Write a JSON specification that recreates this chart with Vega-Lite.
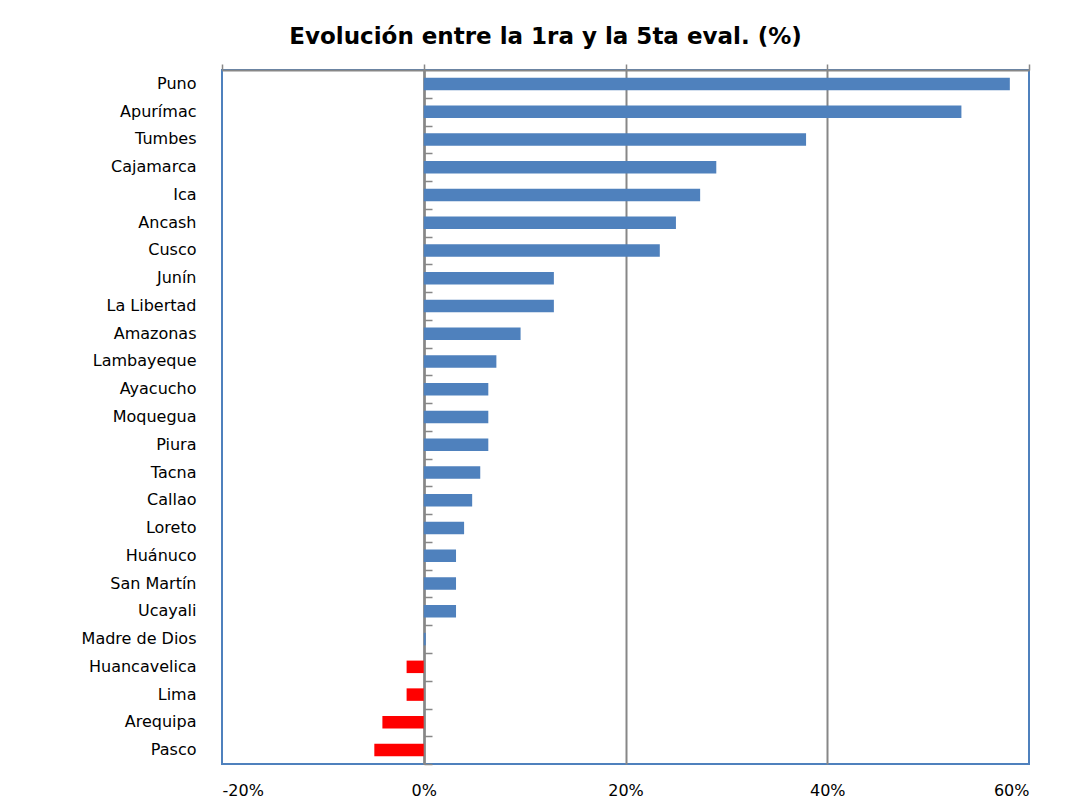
{
  "$schema": "https://vega.github.io/schema/vega-lite/v6.json",
  "width": 807,
  "height": 694,
  "autosize": {"type": "none"},
  "padding": {"left": 222, "top": 70, "right": 40, "bottom": 43},
  "background": "white",
  "config": {"view": {"stroke": "#4F81BD", "strokeWidth": 2}, "font": "DejaVu Sans"},
  "title": {"text": "Evolución entre la 1ra y la 5ta eval. (%)", "fontSize": 23, "fontWeight": "bold", "font": "DejaVu Sans", "dx": -80, "offset": 14, "color": "black"},
  "data": {"values": [
    {"region": "Puno", "valor": 58.1, "signo": "pos"},
    {"region": "Apurímac", "valor": 53.3, "signo": "pos"},
    {"region": "Tumbes", "valor": 37.9, "signo": "pos"},
    {"region": "Cajamarca", "valor": 29.0, "signo": "pos"},
    {"region": "Ica", "valor": 27.4, "signo": "pos"},
    {"region": "Ancash", "valor": 25.0, "signo": "pos"},
    {"region": "Cusco", "valor": 23.4, "signo": "pos"},
    {"region": "Junín", "valor": 12.9, "signo": "pos"},
    {"region": "La Libertad", "valor": 12.9, "signo": "pos"},
    {"region": "Amazonas", "valor": 9.6, "signo": "pos"},
    {"region": "Lambayeque", "valor": 7.2, "signo": "pos"},
    {"region": "Ayacucho", "valor": 6.4, "signo": "pos"},
    {"region": "Moquegua", "valor": 6.4, "signo": "pos"},
    {"region": "Piura", "valor": 6.4, "signo": "pos"},
    {"region": "Tacna", "valor": 5.6, "signo": "pos"},
    {"region": "Callao", "valor": 4.8, "signo": "pos"},
    {"region": "Loreto", "valor": 4.0, "signo": "pos"},
    {"region": "Huánuco", "valor": 3.2, "signo": "pos"},
    {"region": "San Martín", "valor": 3.2, "signo": "pos"},
    {"region": "Ucayali", "valor": 3.2, "signo": "pos"},
    {"region": "Madre de Dios", "valor": 0.2, "signo": "pos"},
    {"region": "Huancavelica", "valor": -1.7, "signo": "neg"},
    {"region": "Lima", "valor": -1.7, "signo": "neg"},
    {"region": "Arequipa", "valor": -4.1, "signo": "neg"},
    {"region": "Pasco", "valor": -4.9, "signo": "neg"}
  ]},
  "layer": [
    {
      "mark": {"type": "bar"},
      "encoding": {
        "y": {"field": "region", "type": "nominal", "sort": null,
          "scale": {"paddingInner": 0.55, "paddingOuter": 0.275},
          "axis": {"title": null, "ticks": false, "domain": false, "labelPadding": 26, "labelFontSize": 16, "labelColor": "black", "labelFont": "DejaVu Sans"}},
        "x": {"field": "valor", "type": "quantitative",
          "scale": {"domain": [-20, 60], "nice": false, "zero": false},
          "axis": {"title": null, "values": [-20, 0, 20, 40, 60], "labelExpr": "datum.value + '%'",
            "grid": true,
            "gridColor": {"condition": {"test": "datum.value === -20 || datum.value === 60", "value": "transparent"}, "value": "#878787"},
            "gridWidth": 2, "ticks": false, "domain": false, "labelPadding": 18, "labelFontSize": 16, "labelColor": "black", "labelFont": "DejaVu Sans"}},
        "color": {"field": "signo", "type": "nominal", "scale": {"domain": ["pos", "neg"], "range": ["#4F81BD", "#FF0000"]}, "legend": null}
      }
    },
    {
      "mark": {"type": "bar", "opacity": 0},
      "encoding": {
        "y": {"field": "region", "type": "nominal", "sort": null,
          "axis": {"title": null, "orient": "right", "offset": -605, "labels": false, "domain": true, "domainColor": "#878787", "domainWidth": 2.5, "ticks": true, "tickOffset": 13.9, "tickSize": 8, "tickColor": "#878787", "tickWidth": 1.5, "grid": false}},
        "x": {"field": "valor", "type": "quantitative",
          "axis": {"title": null, "orient": "top", "values": [-20, 0, 20, 40, 60], "labels": false, "grid": false, "domain": true, "domainColor": "#878787", "domainWidth": 2, "ticks": true, "tickSize": 6, "tickColor": "#878787", "tickWidth": 1.5}}
      }
    }
  ],
  "resolve": {"axis": {"x": "independent", "y": "independent"}}
}
